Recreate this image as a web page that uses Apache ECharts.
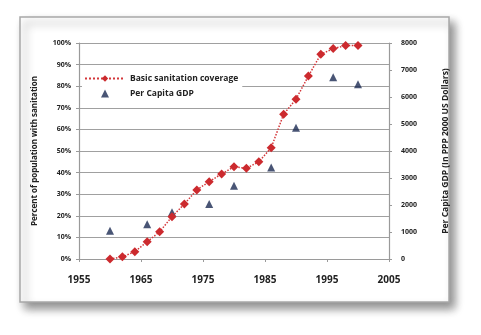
<!DOCTYPE html>
<html><head><meta charset="utf-8">
<script src="https://cdn.jsdelivr.net/npm/echarts@6/dist/echarts.min.js"></script>
<style>html,body{margin:0;padding:0;background:#fff}#c{width:481px;height:335px}</style>
</head><body><div id="c"></div>
<script>
var sanYears = [1960,1962,1964,1966,1968,1970,1972,1974,1976,1978,1980,1982,1984,1986,1988,1990,1992,1994,1996,1998,2000];
var sanValues = [0.0,0.01,0.034,0.08,0.126,0.196,0.255,0.32,0.358,0.394,0.427,0.42,0.45,0.515,0.67,0.74,0.847,0.948,0.974,0.988,0.988];
var gdpYears = [1960,1966,1970,1976,1980,1986,1990,1996,2000];
var gdpValues = [1050,1290,1730,2040,2710,3390,4860,6730,6470];
var seriesNames = ['Basic sanitation coverage','Per Capita GDP'];
var leftTitle = 'Percent of population with sanitation';
var rightTitle = 'Per Capita GDP (In PPP 2000 US Dollars)';

var FONT = '"Open Sans"';
var chart = echarts.init(document.getElementById('c'));
var axisGray = '#9a9a9a';
chart.setOption({
  animation: false,
  graphic: [{
    type: 'rect', z: -10, silent: true,
    shape: {x: 20, y: 17, width: 429, height: 285},
    style: {fill: '#fff', stroke: '#a8a8a8', lineWidth: 1.5,
      shadowBlur: 9, shadowOffsetX: 5, shadowOffsetY: 6, shadowColor: 'rgba(0,0,0,0.45)'}
  }],
  grid: {left: 79, right: 92, top: 43, bottom: 76},
  legend: {
    orient: 'vertical', left: 82, top: 71, itemWidth: 40, itemHeight: 8, itemGap: 6,
    backgroundColor: '#fff', padding: [3, 4, 3, 2],
    textStyle: {fontFamily: FONT, fontWeight: 'bold', fontSize: 8.5, color: '#222'},
    data: [{name: seriesNames[0]}, {name: seriesNames[1], icon: 'path://M0,-1L1,1L-1,1Z'}]
  },
  xAxis: {
    type: 'value', min: 1955, max: 2005, interval: 10,
    axisLine: {lineStyle: {color: axisGray, width: 1.2}},
    axisTick: {show: true, length: 3, lineStyle: {color: axisGray}},
    splitLine: {show: false},
    axisLabel: {fontFamily: FONT, fontWeight: 'bold', fontSize: 10, color: '#222', margin: 16,
      formatter: function (v) { return String(v); }}
  },
  yAxis: [{
    type: 'value', min: 0, max: 1, interval: 0.1,
    axisLine: {show: true, lineStyle: {color: axisGray, width: 1.2}},
    axisTick: {show: true, length: 3, lineStyle: {color: axisGray}},
    splitLine: {show: true, lineStyle: {color: '#a0a0a0', width: 1.2}},
    axisLabel: {fontFamily: FONT, fontWeight: 'bold', fontSize: 7, color: '#222', margin: 8,
      formatter: function (v) { return Math.round(v * 100) + '%'; }},
    name: leftTitle, nameLocation: 'middle', nameGap: 40,
    nameTextStyle: {fontFamily: FONT, fontWeight: 'bold', fontSize: 8, color: '#222'}
  }, {
    type: 'value', min: 0, max: 8000, interval: 1000, position: 'right',
    axisLine: {show: true, lineStyle: {color: axisGray, width: 1.2}},
    axisTick: {show: true, length: 3, lineStyle: {color: axisGray}},
    splitLine: {show: false},
    axisLabel: {fontFamily: FONT, fontWeight: 'bold', fontSize: 7, color: '#222', margin: 12,
      formatter: function (v) { return String(v); }},
    name: rightTitle, nameLocation: 'middle', nameGap: 52, nameRotate: 90,
    nameTextStyle: {fontFamily: FONT, fontWeight: 'bold', fontSize: 8.5, color: '#222'}
  }],
  series: [{
    name: seriesNames[0], type: 'line', yAxisIndex: 0,
    data: sanYears.map(function (y, i) { return [y, sanValues[i]]; }),
    symbol: 'diamond', symbolSize: 9,
    lineStyle: {color: '#d4373a', width: 1.5, type: 'dotted'},
    itemStyle: {color: '#cc2a2e'}
  }, {
    name: seriesNames[1], type: 'scatter', yAxisIndex: 1,
    data: gdpYears.map(function (y, i) { return [y, gdpValues[i]]; }),
    symbol: 'triangle', symbolSize: [8, 8],
    itemStyle: {color: '#1b2a52'}
  }]
});
</script></body></html>
